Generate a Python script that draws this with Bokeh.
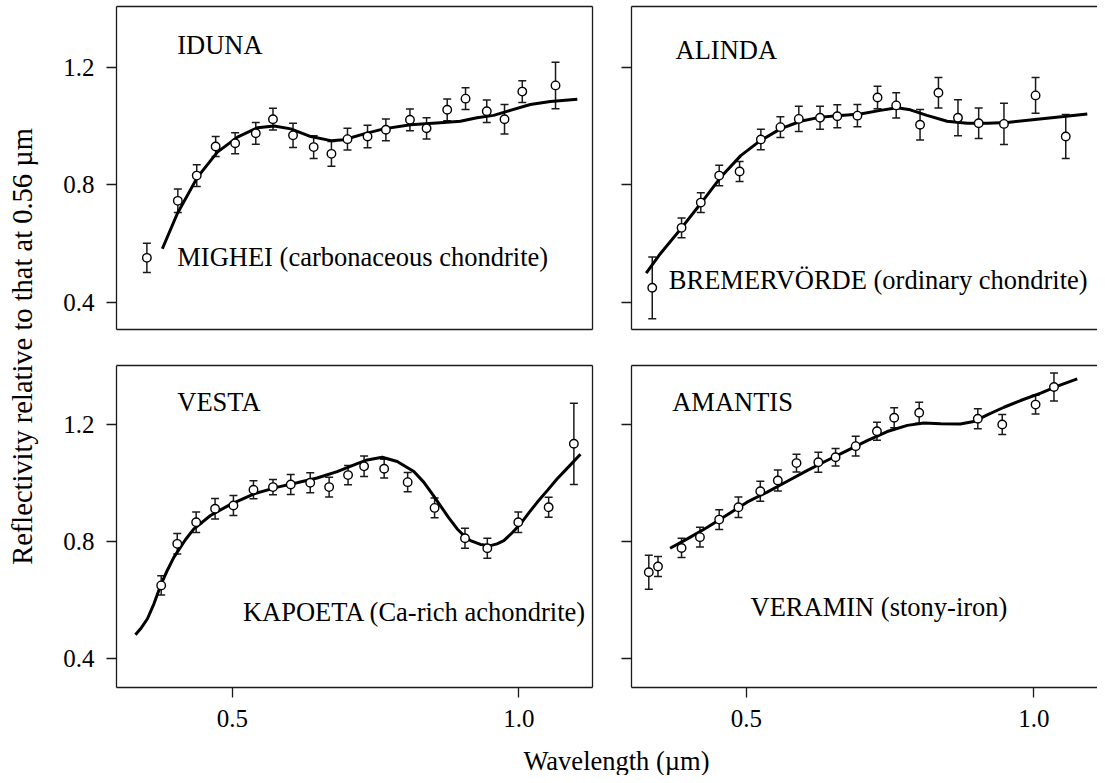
import math
from bokeh.plotting import figure
from bokeh.models import (ColumnDataSource, Whisker, TeeHead, Range1d, LinearAxis,
                          FixedTicker, NumeralTickFormatter, CustomJSTickFormatter, Label)
from bokeh.layouts import row, column
from bokeh.embed import file_html
from bokeh.resources import INLINE

FONT = "Liberation Serif"
INK = "#1a1a1a"

# ---------------- data ----------------
# IDUNA / MIGHEI
iduna_x = [0.351, 0.405, 0.438, 0.471, 0.505, 0.541, 0.571, 0.606, 0.642, 0.673, 0.701,
           0.736, 0.768, 0.810, 0.839, 0.875, 0.907, 0.944, 0.975, 1.006, 1.064]
iduna_y = [0.551, 0.745, 0.831, 0.930, 0.941, 0.975, 1.023, 0.968, 0.928, 0.905, 0.955,
           0.964, 0.987, 1.021, 0.992, 1.055, 1.093, 1.050, 1.023, 1.117, 1.138]
iduna_err = [0.050, 0.040, 0.037, 0.034, 0.036, 0.037, 0.037, 0.041, 0.039, 0.042, 0.037,
             0.038, 0.037, 0.037, 0.036, 0.037, 0.037, 0.038, 0.050, 0.037, 0.079]
mighei_x = [0.378, 0.404, 0.439, 0.474, 0.509, 0.544, 0.573, 0.602, 0.637, 0.672, 0.695,
            0.730, 0.764, 0.811, 0.869, 0.898, 0.927, 0.956, 0.985, 1.020, 1.055, 1.102]
mighei_y = [0.582, 0.701, 0.825, 0.911, 0.962, 0.994, 1.000, 0.990, 0.964, 0.950, 0.953,
            0.973, 0.990, 1.004, 1.012, 1.016, 1.028, 1.036, 1.053, 1.073, 1.083, 1.091]

# ALINDA / BREMERVÖRDE
alinda_x = [0.336, 0.387, 0.4205, 0.4525, 0.488, 0.525, 0.559, 0.591, 0.628, 0.658, 0.693,
            0.728, 0.7605, 0.802, 0.834, 0.868, 0.904, 0.948, 1.003, 1.0555]
alinda_y = [0.449, 0.653, 0.739, 0.831, 0.845, 0.954, 0.996, 1.024, 1.028, 1.033, 1.035,
            1.097, 1.070, 1.004, 1.113, 1.028, 1.009, 1.007, 1.104, 0.964]
alinda_err = [0.105, 0.034, 0.034, 0.035, 0.034, 0.035, 0.035, 0.043, 0.039, 0.039, 0.038,
              0.038, 0.043, 0.052, 0.052, 0.061, 0.052, 0.070, 0.061, 0.075]
bremer_x = [0.3255, 0.350, 0.385, 0.420, 0.455, 0.490, 0.524, 0.559, 0.594, 0.629, 0.664,
            0.698, 0.733, 0.762, 0.785, 0.814, 0.849, 0.884, 0.919, 0.954, 1.006, 1.052, 1.093]
bremer_y = [0.499, 0.565, 0.648, 0.735, 0.825, 0.899, 0.950, 0.990, 1.016, 1.030, 1.036,
            1.041, 1.053, 1.062, 1.055, 1.036, 1.016, 1.009, 1.009, 1.012, 1.023, 1.032, 1.041]

# VESTA / KAPOETA
vesta_x = [0.376, 0.404, 0.437, 0.470, 0.502, 0.537, 0.571, 0.602, 0.636, 0.669, 0.702,
           0.730, 0.765, 0.806, 0.853, 0.906, 0.945, 0.999, 1.052, 1.096]
vesta_y = [0.650, 0.792, 0.866, 0.912, 0.923, 0.977, 0.986, 0.995, 1.001, 0.986, 1.027,
           1.057, 1.049, 1.003, 0.915, 0.811, 0.777, 0.866, 0.917, 1.134]
vesta_err = [0.033, 0.035, 0.035, 0.035, 0.034, 0.031, 0.026, 0.034, 0.034, 0.034, 0.033,
             0.035, 0.032, 0.033, 0.034, 0.034, 0.034, 0.035, 0.034, 0.139]
kapoeta_x = [0.331, 0.340, 0.352, 0.3633, 0.375, 0.3866, 0.398, 0.4185, 0.433, 0.4477, 0.462,
             0.497, 0.538, 0.579, 0.613, 0.648, 0.683, 0.718, 0.7355, 0.7616, 0.7878, 0.8168,
             0.834, 0.8489, 0.863, 0.8778, 0.8925, 0.904, 0.9157, 0.933, 0.9505, 0.962,
             0.9738, 0.9884, 1.003, 1.0174, 1.032, 1.0495, 1.0669, 1.0871, 1.1075]
kapoeta_y = [0.481, 0.5015, 0.536, 0.587, 0.650, 0.701, 0.746, 0.807, 0.843, 0.866, 0.889,
             0.927, 0.963, 0.986, 1.001, 1.017, 1.039, 1.066, 1.079, 1.088, 1.0735, 1.0393,
             1.003, 0.963, 0.923, 0.881, 0.843, 0.8205, 0.803, 0.790, 0.786, 0.792,
             0.803, 0.830, 0.8605, 0.898, 0.934, 0.974, 1.0144, 1.056, 1.0985]

# AMANTIS / VERAMIN
amantis_x = [0.330, 0.346, 0.387, 0.419, 0.4525, 0.486, 0.524, 0.5545, 0.587, 0.625, 0.655,
             0.690, 0.727, 0.757, 0.8005, 0.9025, 0.945, 1.003, 1.035]
amantis_y = [0.695, 0.7145, 0.778, 0.815, 0.875, 0.917, 0.972, 1.0085, 1.068, 1.071, 1.088,
             1.126, 1.177, 1.223, 1.240, 1.2195, 1.200, 1.268, 1.328]
amantis_err = [0.058, 0.034, 0.033, 0.034, 0.034, 0.035, 0.034, 0.036, 0.030, 0.034, 0.030,
               0.034, 0.031, 0.034, 0.036, 0.034, 0.034, 0.032, 0.048]
veramin_x = [0.367, 0.397, 0.432, 0.466, 0.501, 0.536, 0.571, 0.606, 0.640, 0.675, 0.710,
             0.745, 0.780, 0.8085, 0.838, 0.872, 0.8955, 0.919, 0.948, 0.977, 1.012, 1.041, 1.0755]
veramin_y = [0.777, 0.809, 0.849, 0.891, 0.9345, 0.969, 1.006, 1.043, 1.077, 1.111, 1.145,
             1.176, 1.197, 1.205, 1.203, 1.202, 1.210, 1.233, 1.259, 1.282, 1.307, 1.331, 1.356]

x_ticks = [0.5, 1.0]
y_ticks = [0.4, 0.8, 1.2]
y_label_text = "Reflectivity relative to that at 0.56 \u00b5m"
x_label_text = "Wavelength (\u00b5m)"

TEXT_SHIFT_PX = 8.5   # rendered baseline sits this far below the anchor


# ---------------- helpers ----------------
def style_axis(ax, ticks, labels, standoff=10):
    ax.ticker = FixedTicker(ticks=ticks, minor_ticks=[])
    ax.axis_line_color = INK
    ax.axis_line_width = 1.3
    ax.major_tick_line_color = INK if ticks else None
    ax.major_tick_line_width = 1.3
    ax.major_tick_out = 10 if ticks else 0
    ax.major_tick_in = 0
    ax.minor_tick_line_color = None
    ax.major_label_text_font = FONT
    ax.major_label_text_color = "black"
    ax.major_label_text_font_size = "25px"
    if labels:
        ax.formatter = NumeralTickFormatter(format="0.0")
        ax.major_label_standoff = standoff
    else:
        ax.formatter = CustomJSTickFormatter(code="return '';")
        ax.major_label_standoff = 0


def make_panel(px, py, perr, fx, fy, name, sample, name_xy, sample_xy,
               xr, yr, fw, fh, borders, ylabels, xticks):
    p = figure(frame_width=fw, frame_height=fh, title=None,
               x_range=Range1d(*xr), y_range=Range1d(*yr),
               toolbar_location=None, output_backend="svg",
               min_border_left=borders[0], min_border_right=borders[1],
               min_border_top=borders[2], min_border_bottom=borders[3],
               outline_line_color=None, background_fill_color="white",
               border_fill_color="white")
    p.grid.visible = False
    style_axis(p.xaxis[0], x_ticks if xticks else [], xticks, 12)
    style_axis(p.yaxis[0], y_ticks, ylabels, 12)
    top = LinearAxis()
    style_axis(top, [], False)
    p.add_layout(top, "above")
    if ylabels:
        rgt = LinearAxis()
        style_axis(rgt, [], False)
        p.add_layout(rgt, "right")

    p.line(fx, fy, line_width=3, line_color="black")
    src = ColumnDataSource(dict(x=px, y=py,
                                upper=[a + e for a, e in zip(py, perr)],
                                lower=[a - e for a, e in zip(py, perr)]))
    w = Whisker(source=src, base="x", upper="upper", lower="lower",
                line_color=INK, line_width=1.5,
                upper_head=TeeHead(size=8, line_color=INK, line_width=1.5),
                lower_head=TeeHead(size=8, line_color=INK, line_width=1.5))
    p.add_layout(w)
    p.scatter("x", "y", source=src, marker="circle", size=8.5,
              fill_color="white", line_color="black", line_width=1.4)

    dy = TEXT_SHIFT_PX * (yr[1] - yr[0]) / fh
    for txt, (tx, ty) in ((name, name_xy), (sample, sample_xy)):
        p.add_layout(Label(x=tx, y=ty + dy, text=txt, text_font=FONT, text_font_size="26.5px",
                           text_color="black", text_baseline="alphabetic", text_align="left"))
    return p


# visible area: 1097 x 775 px
TOTAL_W, TOTAL_H = 1097, 775
YLAB_W = 48
RIGHT_FRAME_W = TOTAL_W - YLAB_W - (68 + 476 + 10) - 29

XR_L = (0.298, 1.1285)
XR_R = (0.2999, 0.2999 + RIGHT_FRAME_W / 574.7)
YR_1 = (0.307, 1.4067)
YR_2 = (0.301, 1.4017)

BOTTOM = 56
f1 = make_panel(iduna_x, iduna_y, iduna_err, mighei_x, mighei_y,
                "IDUNA", "MIGHEI (carbonaceous chondrite)", (0.404, 1.246), (0.404, 0.525),
                XR_L, YR_1, 476, 323, (68, 10, 6, 20), True, False)
f2 = make_panel(alinda_x, alinda_y, alinda_err, bremer_x, bremer_y,
                "ALINDA", "BREMERV\u00d6RDE (ordinary chondrite)", (0.3765, 1.2286), (0.3648, 0.4455),
                XR_R, YR_1, RIGHT_FRAME_W, 323, (29, 0, 6, 20), False, False)
f3 = make_panel(vesta_x, vesta_y, vesta_err, kapoeta_x, kapoeta_y,
                "VESTA", "KAPOETA (Ca-rich achondrite)", (0.404, 1.2479), (0.5185, 0.530),
                XR_L, YR_2, 476, 322, (68, 10, 16, BOTTOM), True, True)
f4 = make_panel(amantis_x, amantis_y, amantis_err, veramin_x, veramin_y,
                "AMANTIS", "VERAMIN (stony-iron)", (0.3707, 1.2479), (0.507, 0.547),
                XR_R, YR_2, RIGHT_FRAME_W, 322, (29, 0, 16, BOTTOM), False, True)


def label_fig(w, h):
    p = figure(frame_width=w, frame_height=h, title=None,
               x_range=Range1d(0, w), y_range=Range1d(0, h),
               toolbar_location=None, output_backend="svg", min_border=0,
               min_border_left=0, min_border_right=0, min_border_top=0, min_border_bottom=0,
               outline_line_color=None, border_fill_color="white")
    p.axis.visible = False
    p.grid.visible = False
    return p


ylab = label_fig(YLAB_W, TOTAL_H)
ylab.add_layout(Label(x=22, y=TOTAL_H - 346, text=y_label_text, angle=math.pi / 2,
                      text_font=FONT, text_font_size="28.5px", text_color="black",
                      text_align="center", text_baseline="middle"))
XLAB_TOP = 349 + 16 + 322 + BOTTOM
XLAB_H = TOTAL_H - XLAB_TOP
xlab = label_fig(TOTAL_W - YLAB_W, XLAB_H)
xlab.add_layout(Label(x=616 - YLAB_W, y=XLAB_H - (769 - TEXT_SHIFT_PX - XLAB_TOP),
                      text=x_label_text, text_font=FONT, text_font_size="26.5px",
                      text_color="black", text_align="center", text_baseline="alphabetic"))

layout = row(ylab, column(row(f1, f2), row(f3, f4), xlab))

open("out.html", "w").write(file_html(layout, INLINE))
